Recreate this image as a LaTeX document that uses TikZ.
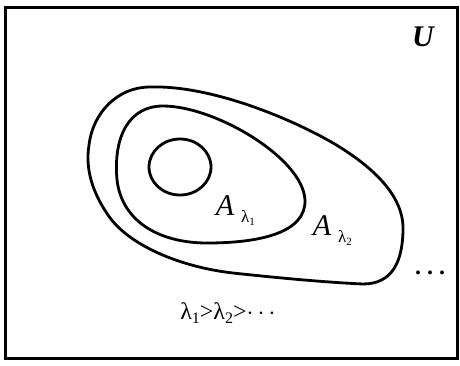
\documentclass[tikz,border=0pt]{standalone}
\usepackage{fontspec}
\setmainfont{Liberation Serif}
\begin{document}
\begin{tikzpicture}[x=1pt,y=-1pt,
  curve/.style={line width=2.8pt, line join=round},
  lbl/.style={inner sep=0pt, font=\fontsize{30}{32}\selectfont},
  sub/.style={inner sep=0pt, anchor=west, font=\fontsize{17}{19}\selectfont}]
\useasboundingbox (0,0) rectangle (460,365);
\draw[line width=3pt] (5,7) rectangle (457,358);
% outer set A_lambda2
\draw[curve] (150,87) .. controls (210,85) and (290,118) .. (333,143)
  .. controls (372,166) and (403,195) .. (403,228)
  .. controls (403,262) and (392,284) .. (363,284)
  .. controls (320,282) and (270,277) .. (233,273)
  .. controls (180,267) and (128,245) .. (108,215)
  .. controls (93,193) and (85,170) .. (89,145)
  .. controls (93,112) and (118,87) .. (150,87) -- cycle;
% inner set A_lambda1
\draw[curve] (163,106) .. controls (215,106) and (303,158) .. (305,200)
  .. controls (306,232) and (262,243) .. (207,243)
  .. controls (160,243) and (122,222) .. (117,180)
  .. controls (113,135) and (130,106) .. (163,106) -- cycle;
% innermost circle
\draw[curve] (180,167) ellipse [x radius=31, y radius=28];
\node[lbl] (a1) at (225,206) {\textit{A}};
\node[sub] (s1) at (241,218) {λ\raisebox{-0.3ex}{\fontsize{11}{12}\selectfont 1}};
\node[lbl] (a2) at (322,226) {\textit{A}};
\node[sub] (s2) at (338,238) {λ\raisebox{-0.3ex}{\fontsize{11}{12}\selectfont 2}};
\node[inner sep=0pt, font=\fontsize{24}{26}\selectfont\bfseries] (dots) at (430,273) {.\kern6pt.\kern6pt.};
\node[inner sep=0pt, font=\fontsize{24}{26}\selectfont] (ord) at (228,313) {λ\raisebox{-0.3ex}{\fontsize{16}{17}\selectfont 1}>λ\raisebox{-0.3ex}{\fontsize{16}{17}\selectfont 2}>$\cdots$};
\node[inner sep=0pt, font=\fontsize{30}{32}\selectfont\bfseries\itshape] (U) at (423,37) {U};
\end{tikzpicture}
\end{document}
